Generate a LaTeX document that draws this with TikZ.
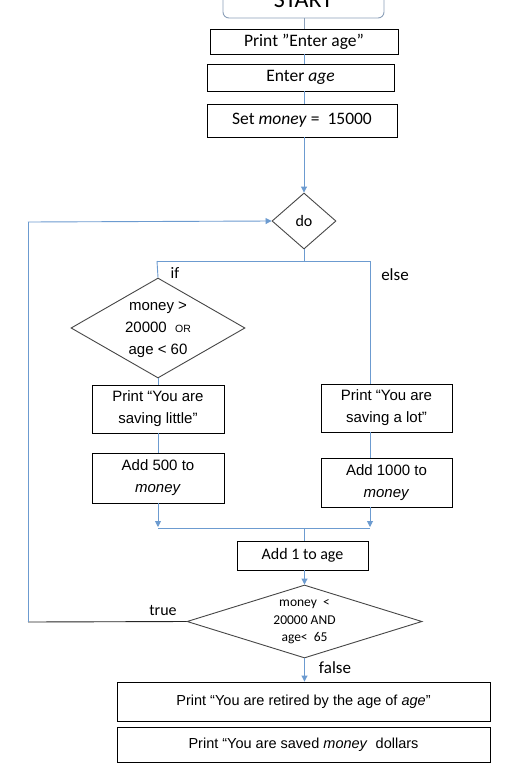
\documentclass[tikz,border=0pt]{standalone}
\usepackage{fontspec}
\setmainfont{Carlito}
\newfontfamily\arial{Liberation Sans}
\usetikzlibrary{arrows.meta,shapes.geometric}
\definecolor{flowblue}{RGB}{108,155,208}
\definecolor{startedge}{RGB}{140,160,185}
\definecolor{diaedge}{RGB}{70,70,70}
\tikzset{
  box/.style={draw=black,line width=0.9pt,inner sep=0pt,align=center},
  cal/.style={font=\fontsize{16}{19}\selectfont},
  caltop/.style={font=\fontsize{17.5}{20}\selectfont},
  ari/.style={font=\arial\fontsize{15}{22}\selectfont},
  dia/.style={draw=diaedge,line width=0.9pt,diamond,inner sep=0pt},
  flow/.style={draw=flowblue,line width=0.9pt},
  flowarr/.style={flow,-{Triangle[width=6pt,length=6pt]}},
  lbl/.style={cal,inner sep=0pt}
}
\begin{document}
\begin{tikzpicture}[x=1pt,y=-1pt]
\useasboundingbox (0,0) rectangle (509,779);
\clip (0,0) rectangle (509,779);
\fill[white] (0,0) rectangle (509,779);
% START
\node[draw=startedge,line width=0.9pt,rounded corners=6pt,minimum width=161pt,minimum height=36pt,inner sep=0pt,font=\fontsize{24}{28}\selectfont] (start) at (303.5,0) {START};
% top boxes
\node[box,caltop,minimum width=188pt,minimum height=25pt] (p1) at (304,41.5) {Print ”Enter age”};
\node[box,caltop,minimum width=187pt,minimum height=27pt] (p2) at (300.5,77.5) {Enter \textit{age}};
\node[box,caltop,minimum width=190pt,minimum height=33pt] (p3) at (302,120.5) {Set \textit{money} =~ 15000};
% do diamond
\node[dia,minimum width=64pt,minimum height=56pt] (do) at (304,221) {};
\node[lbl] (dotxt) at (do) {do};
% left condition
\node[dia,minimum width=174pt,minimum height=100pt] (c1) at (158,328) {};
\node[ari,align=center,inner sep=0pt] (c1txt) at (158,330) {money \textgreater\\20000~ {\fontsize{10.5}{12}\selectfont OR}\\age \textless{} 60};
% left boxes
\node[box,ari,minimum width=132pt,minimum height=48pt] (l1) at (158,409) {Print “You are\\saving little”};
\node[box,ari,minimum width=132pt,minimum height=50pt] (l2) at (158,478) {Add 500 to\\\textit{money}};
% right boxes
\node[box,ari,minimum width=131pt,minimum height=48pt] (r1) at (386.5,408) {Print “You are\\saving a lot”};
\node[box,ari,minimum width=131pt,minimum height=49pt] (r2) at (386.5,482.5) {Add 1000 to\\\textit{money}};
% add 1
\node[box,cal,minimum width=131pt,minimum height=29pt] (add) at (302.5,555.5) {Add 1 to age};
% bottom condition
\node[dia,minimum width=235pt,minimum height=73pt] (c2) at (304.5,621.5) {};
\node[align=center,inner sep=0pt,font=\fontsize{13.5}{17.5}\selectfont] (c2txt) at (304.5,622) {money~ \textless\\20000 AND\\ age\textless~ 65};
% bottom boxes
\node[box,ari,font=\arial\fontsize{14.5}{18}\selectfont,minimum width=373pt,minimum height=39pt] (b1) at (303.5,701.5) {Print “You are retired by the age of \textit{age}”};
\node[box,ari,font=\arial\fontsize{14.5}{18}\selectfont,minimum width=373pt,minimum height=35pt] (b2) at (303.5,744.5) {Print “You are saved \textit{money}~ dollars};
% coordinates
\coordinate (split) at (304,261);
\coordinate (splitL) at (157,261);
\coordinate (splitR) at (370,261);
\coordinate (joinL) at (158,527);
\coordinate (joinR) at (370,527);
\coordinate (joinM) at (304,528);
\coordinate (loopB) at (28,622);
\coordinate (loopT) at (28,222);
% connectors
\draw[draw=startedge,line width=0.9pt] (start.south -| p1.north) -- (p1.north);
\draw[flow] (p1.south) -- (p1.south |- p2.north);
\draw[flow] (p2.south -| p1.south) -- (p1.south |- p3.north);
\draw[flowarr] (p3.south -| do.north) -- (do.north);
\draw[flow] (do.south) -- (split);
\draw[flow] (splitL) -- (splitR);
\draw[flow] (splitL) -- (c1.north);
\draw[flow] (splitR) -- (r1.north -| splitR);
\draw[flow] (c1.south) -- (l1.north);
\draw[flow] (l1.south) -- (l2.north);
\draw[flowarr] (l2.south) -- (joinL);
\draw[flow] (r1.south -| joinR) -- (r2.north -| joinR);
\draw[flowarr] (r2.south -| joinR) -- (joinR);
\draw[flow] (158,528) -- (370,528);
\draw[flow] (joinM) -- (add.north -| joinM);
\draw[flowarr] (add.south -| c2.north) -- (c2.north);
\draw[draw=black!85,line width=0.9pt] (c2.west) -- (loopB);
\draw[flow] (loopB) -- (loopT);
\draw[flowarr] (loopT) -- (do.west);
\draw[flowarr] (c2.south) -- (b1.north -| c2.south);
% labels
\node[lbl] (iflbl) at (175,273) {if};
\node[lbl,font=\fontsize{17}{20}\selectfont] (elselbl) at (395,275) {else};
\node[lbl] (truelbl) at (163,610) {true};
\node[lbl,font=\fontsize{17}{20}\selectfont] (falselbl) at (335,668) {false};
\end{tikzpicture}
\end{document}
